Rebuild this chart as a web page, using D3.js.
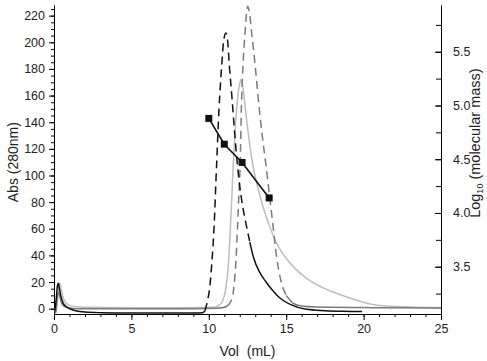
<!DOCTYPE html>
<html>
<head>
<meta charset="utf-8">
<script src="https://cdn.jsdelivr.net/npm/d3@7"></script>
<style>
  body { margin: 0; background: #fff; }
  text { font-family: Arial, "Liberation Sans", sans-serif; }
</style>
</head>
<body>
<div id="chart"></div>
<script>
// elution profiles, Abs (280nm) vs volume (mL)
const blackVol = [0.05, 0.15, 0.22, 0.28, 0.35, 0.45, 0.6, 0.8, 1.0, 1.4, 2, 3, 5, 7, 9, 9.6, 9.75, 9.9, 10.07, 10.2, 10.33, 10.5, 10.66, 10.83, 10.95, 11.1, 11.2, 11.33, 11.5, 11.65, 11.8, 12.0, 12.2, 12.4, 12.65, 12.9, 13.3, 13.7, 14.1, 14.5, 15.3, 16.3, 17.5, 18.7, 19.9];
const blackAbs = [-2, 8, 17, 19, 15, 9, 4, 1.5, 0, -1.5, -2.5, -3, -3.3, -3.3, -3.3, -3.0, -1.5, 5, 17, 35, 59, 107, 150, 182, 200, 207, 203, 182, 158, 135, 114, 92, 76, 64, 50, 38, 27, 20, 14, 9, 3, -0.5, -1.5, -2, -2.2];

const grayVol = [0.05, 0.12, 0.2, 0.3, 0.4, 0.5, 0.7, 1.0, 1.5, 3, 6, 9, 10.5, 11.0, 11.2, 11.4, 11.55, 11.65, 11.75, 11.84, 11.93, 12.02, 12.12, 12.22, 12.34, 12.43, 12.51, 12.6, 12.77, 13.0, 13.2, 13.45, 13.7, 13.95, 14.15, 14.3, 14.6, 15.0, 15.46, 16, 17, 18, 20, 22, 25];
const grayAbs = [-1, -3, 8, 12, 8, 4, 1.5, 0.5, 0, 0, 0, 0, 0.3, 1, 2, 5, 10, 19.5, 35, 57, 82, 107, 157, 185, 207, 221, 227, 224, 207, 182, 157, 130, 107, 82, 62, 46, 24, 10, 4, 2, 1.2, 1, 0.8, 0.6, 0.4];

const lightVol = [0.05, 0.12, 0.22, 0.3, 0.38, 0.48, 0.6, 0.8, 1.0, 1.5, 2.5, 5, 8, 10.3, 10.6, 10.85, 11.05, 11.15, 11.26, 11.37, 11.48, 11.58, 11.69, 11.8, 11.9, 12.0, 12.08, 12.18, 12.3, 12.45, 12.6, 12.8, 13.0, 13.3, 13.6, 13.9, 14.3, 14.8, 15.5, 16.3, 17.5, 18.5, 19.5, 20.2, 21, 23, 25];
const lightAbs = [0, -3, 6, 15, 19, 14, 8, 4, 2.5, 1.5, 1, 0.7, 0.7, 1, 2, 5, 12, 20, 32, 55, 82, 108, 132, 150, 162, 169, 172, 168, 157, 141, 127, 111, 99, 85, 73, 63, 51, 41, 31, 23, 15, 10.5, 6.5, 4, 2.4, 1.3, 0.8];

// calibration standards, log10(molecular mass) vs volume
const calVol = [10.0, 11.0, 12.15, 13.9];
const calLogM = [4.88, 4.64, 4.47, 4.14];

const xTicks = [0, 5, 10, 15, 20, 25];
const yTicks = [0, 20, 40, 60, 80, 100, 120, 140, 160, 180, 200, 220];
const y2Ticks = [3.5, 4.0, 4.5, 5.0, 5.5];

const width = 487, height = 361;
const margin = {left: 54, right: 46, top: 5, bottom: 47};

const svg = d3.select("#chart").append("svg")
    .attr("width", width)
    .attr("height", height);

const x = d3.scaleLinear().domain([0, 25]).range([margin.left, width - margin.right]);
const y = d3.scaleLinear().domain([-4, 228]).range([height - margin.bottom, margin.top]);
const y2 = d3.scaleLinear().domain([3.06, 5.935]).range([height - margin.bottom, margin.top]);

// axes
const minorX = d3.range(0, 25.01, 1);
const minorY = d3.range(0, 226, 5);
const minorY2 = d3.range(3.25, 5.9, 0.25);

svg.append("g")
    .attr("transform", `translate(0,${height - margin.bottom})`)
    .call(d3.axisBottom(x).tickValues(minorX).tickSize(3).tickFormat(""));
svg.append("g")
    .attr("transform", `translate(0,${height - margin.bottom})`)
    .call(d3.axisBottom(x).tickValues(xTicks).tickSize(6).tickSizeOuter(0).tickPadding(4).tickFormat(d3.format("d")));

svg.append("g")
    .attr("transform", `translate(${margin.left},0)`)
    .call(d3.axisLeft(y).tickValues(minorY).tickSize(3).tickSizeOuter(0).tickFormat(""));
svg.append("g")
    .attr("transform", `translate(${margin.left},0)`)
    .call(d3.axisLeft(y).tickValues(yTicks).tickSize(5).tickSizeOuter(0).tickPadding(4));

svg.append("g")
    .attr("transform", `translate(${width - margin.right},0)`)
    .call(d3.axisRight(y2).tickValues(minorY2).tickSize(-5).tickSizeOuter(0).tickFormat(""));
svg.append("g")
    .attr("transform", `translate(${width - margin.right},0)`)
    .call(d3.axisRight(y2).tickValues(y2Ticks).tickSize(-6).tickSizeOuter(0).tickPadding(12).tickFormat(d3.format(".1f")));

svg.selectAll(".tick text").attr("font-size", 12.5).attr("fill", "#222")
    .style("font-family", "Arial, 'Liberation Sans', sans-serif");
svg.selectAll(".domain, .tick line").attr("stroke", "#000").attr("stroke-width", 1);

// titles
svg.append("text")
    .attr("x", x(12.5)).attr("y", 356)
    .attr("text-anchor", "middle").attr("font-size", 14).attr("fill", "#222")
    .attr("xml:space", "preserve")
    .text("Vol  (mL)");

svg.append("text")
    .attr("transform", `translate(18,${y(110)}) rotate(-90)`)
    .attr("text-anchor", "middle").attr("font-size", 14).attr("fill", "#222")
    .text("Abs (280nm)");

const r = svg.append("text")
    .attr("transform", `translate(480,${y2(4.65)}) rotate(-90)`)
    .attr("text-anchor", "middle").attr("font-size", 14.5).attr("fill", "#222");
r.append("tspan").text("Log");
r.append("tspan").attr("font-size", 9).attr("dy", 3).text("10");
r.append("tspan").attr("dy", -3).text(" (molecular mass)");

// curves
const line = d3.line()
    .x(d => x(d[0]))
    .y(d => y(d[1]))
    .curve(d3.curveMonotoneX);

function drawTrace(vol, abs, color, dashFrom, dashTo) {
    const pts = vol.map((v, i) => [v, abs[i]]);
    const g = svg.append("g").attr("fill", "none").attr("stroke", color).attr("stroke-width", 1.5);
    if (dashFrom == null) {
        g.append("path").attr("d", line(pts));
        return;
    }
    g.append("path").attr("d", line(pts.filter(p => p[0] <= dashFrom)));
    g.append("path").attr("d", line(pts.filter(p => p[0] >= dashTo)));
    g.append("path").attr("stroke-dasharray", "8,5")
        .attr("d", line(pts.filter(p => p[0] >= dashFrom && p[0] <= dashTo)));
}

drawTrace(lightVol, lightAbs, "#bdbdbd");
drawTrace(grayVol, grayAbs, "#7a7a7a", 11.2, 15.0);
drawTrace(blackVol, blackAbs, "#111", 9.75, 12.65);

// calibration
const cal = calVol.map((v, i) => [v, calLogM[i]]);
svg.append("path")
    .attr("fill", "none").attr("stroke", "#111").attr("stroke-width", 1.6)
    .attr("d", d3.line().x(d => x(d[0])).y(d => y2(d[1]))(cal));
svg.selectAll("rect.cal").data(cal).join("rect")
    .attr("class", "cal")
    .attr("x", d => x(d[0]) - 3.5).attr("y", d => y2(d[1]) - 3.5)
    .attr("width", 7).attr("height", 7)
    .attr("fill", "#111");
</script>
</body>
</html>
